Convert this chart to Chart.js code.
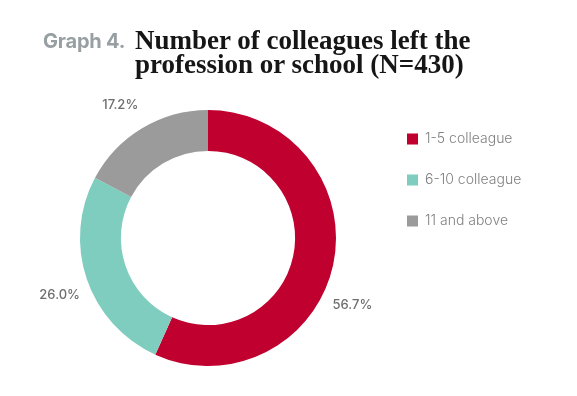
<!DOCTYPE html>
<html>
<head>
<meta charset="utf-8">
<script src="https://cdn.jsdelivr.net/npm/chart.js@4.4.0/dist/chart.umd.min.js"></script>
<style>
  html, body { margin: 0; padding: 0; background: #fff; }
  .wrap { position: relative; width: 577px; height: 396px; overflow: hidden; }
  .chart-box { position: absolute; left: 0; top: 0; width: 577px; height: 396px; }
  .title { position: absolute; left: 43px; top: 27px; width: 530px; }
  .title .tag { position: absolute; left: 0; top: 2px; font-family: "Inter", "Liberation Sans", sans-serif; font-weight: 700; font-size: 20px; color: #979fa2; letter-spacing: -0.2px; }
  .title .main { position: absolute; left: 92px; top: 1px; font-family: "Liberation Serif", serif; font-weight: 700; font-size: 27px; line-height: 24px; color: #161616; white-space: nowrap; }
</style>
</head>
<body>
<div class="wrap">
  <div class="chart-box"><canvas id="donutChart"></canvas></div>
  <div class="title">
    <span class="tag">Graph 4.</span>
    <div class="main">Number of colleagues left the<br>profession or school (N=430)</div>
  </div>
</div>
<script>
(function() {
    "use strict";

    var categories = ["1-5 colleague", "6-10 colleague", "11 and above"];
    var shares = [56.7, 26.0, 17.2]; // percent of respondents
    var sliceColors = ['#c0002f', '#7fcdbf', '#9b9b9b'];

    // small nudges so the outside labels sit where the original has them
    var labelAngleShift = [12.6, -2.3, -2.5];
    var labelRadius = 159;

    var legendFont = { family: '"Inter", "Liberation Sans", sans-serif', size: 14, weight: '300' };
    var legendBox = 11;
    var legendPad = 27;
    var legendLeft = 380; // where the legend column should start

    // measure the longest legend label so the legend lands at legendLeft
    var probe = document.createElement('canvas').getContext('2d');
    probe.font = legendFont.weight + ' ' + legendFont.size + 'px ' + legendFont.family;
    var textW = Math.max.apply(null, categories.map(function(c) { return probe.measureText(c).width; }));
    var legendWidth = legendPad + legendBox + legendFont.size / 2 + textW + 10;
    var rightPad = 577 - legendLeft - legendWidth;

    var outsideLabels = {
        id: 'outsideLabels',
        afterDatasetsDraw: function(chart) {
            var ctx = chart.ctx;
            var meta = chart.getDatasetMeta(0);
            ctx.save();
            ctx.font = '500 13px "Inter", "Liberation Sans", sans-serif';
            ctx.fillStyle = '#6e6e6e';
            ctx.textAlign = 'center';
            ctx.textBaseline = 'middle';
            meta.data.forEach(function(arc, i) {
                var p = arc.getProps(['x', 'y', 'startAngle', 'endAngle'], true);
                var mid = (p.startAngle + p.endAngle) / 2 + labelAngleShift[i] * Math.PI / 180;
                var lx = p.x + Math.cos(mid) * labelRadius;
                var ly = p.y + Math.sin(mid) * labelRadius;
                ctx.fillText(shares[i].toFixed(1) + '%', lx, ly);
            });
            ctx.restore();
        }
    };

    var ctx = document.getElementById("donutChart").getContext('2d');

    new Chart(ctx, {
        type: 'doughnut',
        data: {
            labels: categories,
            datasets: [{
                data: shares,
                backgroundColor: sliceColors,
                borderWidth: 0,
                radius: 128,
                cutout: 90.5
            }]
        },
        options: {
            responsive: true,
            maintainAspectRatio: false,
            animation: false,
            layout: {
                padding: { top: 105, bottom: 25, left: 36, right: rightPad }
            },
            plugins: {
                tooltip: { enabled: false },
                legend: {
                    position: 'right',
                    align: 'start',
                    labels: {
                        boxWidth: legendBox,
                        boxHeight: legendBox,
                        padding: legendPad,
                        color: '#808080',
                        font: legendFont
                    }
                }
            }
        },
        plugins: [outsideLabels]
    });

})();
</script>
</body>
</html>
